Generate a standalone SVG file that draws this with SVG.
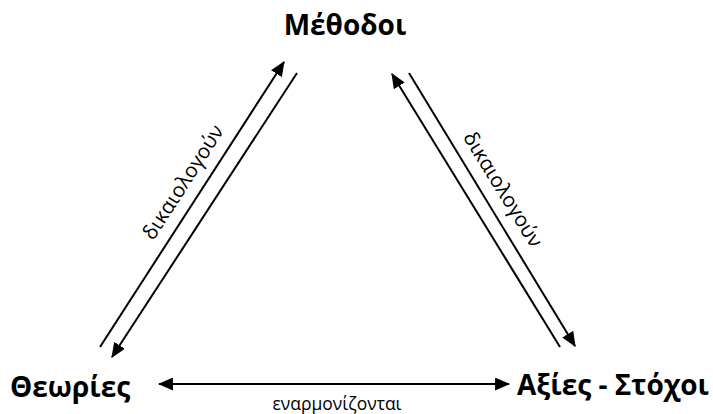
<svg xmlns="http://www.w3.org/2000/svg" width="713" height="414" viewBox="0 0 713 414">
<defs>
<style>
.node{font-family:"Open Sans","Noto Sans",sans-serif;font-weight:bold;font-size:28px;fill:#000}
.lbl{font-family:"Open Sans","Noto Sans",sans-serif;font-size:20.5px;fill:#000}
.conn line{stroke:#000;stroke-width:2}
</style>
<marker id="ah" viewBox="0 0 14 12" refX="13" refY="6" markerWidth="7.5" markerHeight="6.5" orient="auto" markerUnits="strokeWidth">
<path d="M0,0 L14,6 L0,12 z" fill="#000"/>
</marker>
</defs>
<rect width="713" height="414" fill="#fff"/>
<g id="connectors" class="conn">
<line x1="100" y1="347" x2="284" y2="62" marker-end="url(#ah)"/>
<line x1="297" y1="73" x2="112" y2="357" marker-end="url(#ah)"/>
<line x1="560" y1="347" x2="392" y2="74" marker-end="url(#ah)"/>
<line x1="409" y1="73" x2="575" y2="346" marker-end="url(#ah)"/>
<line x1="300" y1="384" x2="159" y2="384" marker-end="url(#ah)"/>
<line x1="300" y1="384" x2="509" y2="384" marker-end="url(#ah)"/>
<text class="lbl" transform="translate(189,186) rotate(-57.2)" text-anchor="middle">δικαιολογούν</text>
<text class="lbl" transform="translate(497,193) rotate(58.4)" text-anchor="middle">δικαιολογούν</text>
<text class="lbl" style="font-size:17.5px" x="337" y="410" text-anchor="middle">εναρμονίζονται</text>
</g>
<g id="node-methodoi"><text class="node" x="345" y="35" text-anchor="middle">Μέθοδοι</text></g>
<g id="node-theories"><text class="node" x="10" y="397">Θεωρίες</text></g>
<g id="node-axies"><text class="node" x="517" y="395">Αξίες - Στόχοι</text></g>
</svg>
